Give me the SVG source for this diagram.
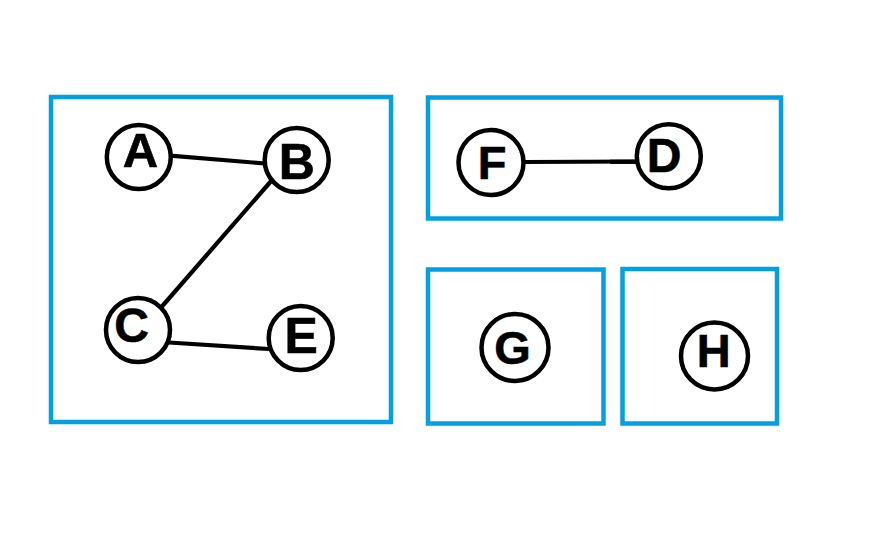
<svg xmlns="http://www.w3.org/2000/svg" width="894" height="548" viewBox="0 0 894 548">
  <style>
    .frame { fill: none; stroke: #00A0E3; stroke-width: 4.5; }
    .node circle { fill: #ffffff; stroke: #000000; stroke-width: 4.5; }
    .node text { font-family: "Liberation Sans", Arial, sans-serif; font-weight: bold; font-size: 49px; fill: #000000; text-anchor: middle; stroke: #000000; stroke-width: 0.6; }
    .edge { stroke: #000000; stroke-width: 4.2; fill: none; stroke-linecap: butt; }
  </style>
  <rect width="894" height="548" fill="#ffffff"/>

  <!-- component frames -->
  <g id="frames">
    <rect class="frame" x="51" y="97" width="340" height="325"/>
    <rect class="frame" x="428" y="97.5" width="353" height="121"/>
    <rect class="frame" x="428" y="269.5" width="175.5" height="154"/>
    <rect class="frame" x="622.5" y="269" width="154.5" height="154.5"/>
  </g>

  <!-- connectors -->
  <g id="edges">
    <line class="edge" x1="170" y1="155.7" x2="265" y2="163.5"/>
    <line class="edge" x1="272" y1="180" x2="161.5" y2="307"/>
    <line class="edge" x1="169" y1="342.5" x2="269" y2="349"/>
    <line class="edge" x1="523" y1="162" x2="637" y2="161.5"/>
    <line class="edge" x1="610" y1="161.8" x2="637" y2="161.8" stroke-width="6"/>
  </g>

  <!-- nodes -->
  <g id="node-A" class="node">
    <circle cx="138.8" cy="157" r="32"/>
    <text x="140.5" y="166.7">A</text>
  </g>
  <g id="node-B" class="node">
    <circle cx="296.7" cy="160" r="32"/>
    <text x="296.7" y="179.3" style="font-size:50px">B</text>
  </g>
  <g id="node-C" class="node">
    <circle cx="138" cy="330" r="32"/>
    <text x="131.5" y="342" style="font-size:48px">C</text>
  </g>
  <g id="node-E" class="node">
    <circle cx="300.7" cy="338" r="32"/>
    <text x="301.3" y="353.3" style="font-size:50px">E</text>
  </g>
  <g id="node-F" class="node">
    <circle cx="491" cy="162.5" r="32.5"/>
    <text x="492" y="178.7" style="font-size:47px">F</text>
  </g>
  <g id="node-D" class="node">
    <circle cx="668.8" cy="156.2" r="32"/>
    <text x="664" y="171.5" style="font-size:48px">D</text>
  </g>
  <g id="node-G" class="node">
    <circle cx="515" cy="347.5" r="33.5"/>
    <text x="512.5" y="364" style="font-size:47px">G</text>
  </g>
  <g id="node-H" class="node">
    <circle cx="714.5" cy="356" r="33.5"/>
    <text x="713.8" y="367.3" style="font-size:47px">H</text>
  </g>
</svg>
